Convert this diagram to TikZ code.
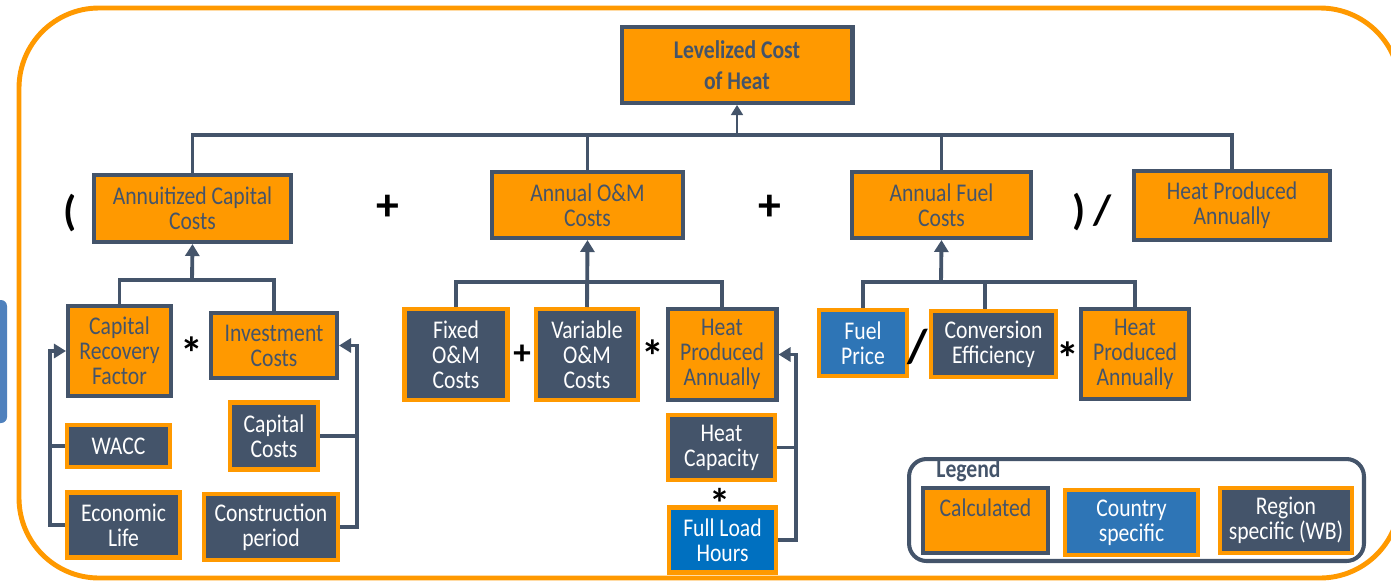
\documentclass[tikz,border=0pt]{standalone}
\usepackage{fontspec}
\setmainfont{Carlito}[FakeStretch=0.85]
\newfontfamily\opfont{Carlito}
\usetikzlibrary{arrows.meta,positioning}
\definecolor{orng}{HTML}{FF9900}
\definecolor{slate}{HTML}{44546A}
\definecolor{ctryblue}{HTML}{2E75B6}
\definecolor{flhblue}{HTML}{0070C0}
\definecolor{fragblue}{HTML}{4F81BD}

\begin{document}
\begin{tikzpicture}[
    x=0.02cm, y=-0.02cm,
    box/.style={rectangle, line width=2.3pt, inner sep=0pt, align=center,
        font=\fontsize{14.5}{14.2}\selectfont},
    calc/.style={box, fill=orng, draw=slate, text=slate},
    reg/.style={box, fill=slate, draw=orng, text=white},
    ctry/.style={box, fill=ctryblue, draw=orng, text=white},
    line/.style={draw=slate, line width=2.2pt},
    arr/.style={line, -{Triangle[width=0.28cm,length=0.24cm]}},
    thinarr/.style={draw=slate, line width=0.9pt, -{Triangle[width=0.24cm,length=0.2cm]}},
    op/.style={text=black, inner sep=0pt, font=\opfont\bfseries\fontsize{#1}{#1}\selectfont},
    op/.default=26
]
\useasboundingbox (0,0) rectangle (1391,582);

% Frame
\fill[fragblue, rounded corners=0.12cm] (-30,300) rectangle (7,423);
\draw[orng, line width=2.8pt, rounded corners=1.6cm] (19,8) rectangle (1400,578);

% Top level
\node[calc, font=\fontsize{14.5}{17.5}\selectfont\bfseries, minimum width=4.62cm, minimum height=1.52cm]
    (lcoh) at (737,65) {Levelized Cost\\of Heat};

\node[calc, minimum width=3.94cm, minimum height=1.34cm] (acc) at (192.5,208.5) {Annuitized Capital\\Costs};
\node[calc, minimum width=3.82cm, minimum height=1.32cm] (aom) at (587.5,205) {Annual O\&M\\Costs};
\node[calc, minimum width=3.58cm, minimum height=1.32cm] (afc) at (941.5,205) {Annual Fuel\\Costs};
\node[calc, minimum width=3.92cm, minimum height=1.38cm] (hpa1) at (1232,205.5) {Heat Produced\\Annually};

\node[op=24] (lpar) at (70,213) {(};
\node[op] (plus1) at (388,208) {+};
\node[op] (plus2) at (770,208) {+};
\node[op=24] (rpar) at (1092,212) {)\,/};

\coordinate (tbus) at (737,135);
\draw[line] (acc.north) |- (hpa1.north |- tbus) -- (hpa1.north);
\draw[line] (aom.north) -- (aom.north |- tbus);
\draw[line] (afc.north) -- (afc.north |- tbus);
\draw[thinarr] (tbus) -- (lcoh.south);

% Capital costs
\node[calc, minimum width=2.06cm, minimum height=1.80cm] (crf) at (119.5,351) {Capital\\Recovery\\Factor};
\node[calc, minimum width=2.52cm, minimum height=1.30cm] (inv) at (274,345.5) {Investment\\Costs};
\node[op] (mul1) at (192,353) {*};
\node[reg, minimum width=2.06cm, minimum height=0.84cm] (wacc) at (118.5,446) {WACC};
\node[reg, minimum width=2.26cm, minimum height=1.30cm] (econ) at (123.5,525) {Economic\\Life};
\node[reg, minimum width=1.76cm, minimum height=1.34cm] (capc) at (274,436) {Capital\\Costs};
\node[reg, minimum width=2.68cm, minimum height=1.32cm] (cons) at (271,527) {Construction\\period};

\coordinate (accbus) at (192,280);
\coordinate (lbr) at (50,0);
\coordinate (rbr) at (357,0);
\draw[line] (crf.north) |- (inv.north |- accbus) -- (inv.north);
\draw[arr] (accbus) -- (acc.south);
\draw[arr] (econ.west) -- (econ.west -| lbr) |- (crf.west);
\draw[line] (wacc.west) -- (wacc.west -| lbr);
\draw[arr] (cons.east) -- (cons.east -| rbr) |- (inv.east);
\draw[line] (capc.east) -- (capc.east -| rbr);

% O&M costs
\node[reg, minimum width=2.06cm, minimum height=1.82cm] (fom) at (456,354.5) {Fixed\\O\&M\\Costs};
\node[reg, minimum width=2.04cm, minimum height=1.82cm] (vom) at (587,354.5) {Variable\\O\&M\\Costs};
\node[calc, minimum width=2.18cm, minimum height=1.82cm] (hpa2) at (722,354.5) {Heat\\Produced\\Annually};
\node[op=20] (plus3) at (522,355) {+};
\node[op] (mul2) at (653,356) {*};
\node[reg, minimum width=2.14cm, minimum height=1.30cm] (hcap) at (721.5,447.5) {Heat\\Capacity};
\node[op=24] (mul3) at (720,503) {*};
\node[ctry, fill=flhblue, minimum width=2.14cm, minimum height=1.30cm] (flh) at (722.5,540) {Full Load\\Hours};

\coordinate (ombus) at (587,282);
\coordinate (mbr) at (796,0);
\draw[line] (fom.north) |- (hpa2.north |- ombus) -- (hpa2.north);
\draw[arr] (vom.north) -- (aom.south);
\draw[arr] (flh.east) -- (flh.east -| mbr) |- (hpa2.east);
\draw[line] (hcap.east) -- (hcap.east -| mbr);

% Fuel costs
\node[ctry, minimum width=1.76cm, minimum height=1.32cm] (fuel) at (863,343) {Fuel\\Price};
\node[reg, minimum width=2.5cm, minimum height=1.32cm] (conv) at (993.5,344) {Conversion\\Efficiency};
\node[calc, minimum width=2.16cm, minimum height=1.80cm] (hpa3) at (1135,354) {Heat\\Produced\\Annually};
\node[op=27] (div1) at (918,347) {/};
\node[op] (mul4) at (1068,358) {*};

\coordinate (fbus) at (941,282);
\draw[line] (fuel.north) |- (hpa3.north |- fbus) -- (hpa3.north);
\draw[line] ([xshift=-0.17cm]conv.north) -- ([xshift=-0.17cm]conv.north |- fbus);
\draw[arr] (fbus) -- (afc.south);

% Legend
\node[draw=slate, fill=white, line width=2.3pt, rounded corners=0.35cm,
    minimum width=9.1cm, minimum height=2.04cm] (legend) at (1136.5,510) {};
\node[anchor=west, text=slate, inner sep=0pt, font=\fontsize{14.5}{14.2}\selectfont\bfseries]
    (legtitle) at (936,471) {Legend};
\node[calc, minimum width=2.5cm, minimum height=1.30cm,
    label={[anchor=north, text=slate, font=\fontsize{14.5}{14.2}\selectfont, yshift=-0.13cm]north:Calculated}]
    (legcalc) at (985.5,520.5) {};
\node[ctry, minimum width=2.66cm, minimum height=1.30cm] (legctry) at (1131.5,522.5) {Country\\specific};
\node[reg, minimum width=2.64cm, minimum height=1.30cm] (legreg) at (1286,520.5) {Region\\specific (WB)};
\end{tikzpicture}
\end{document}
